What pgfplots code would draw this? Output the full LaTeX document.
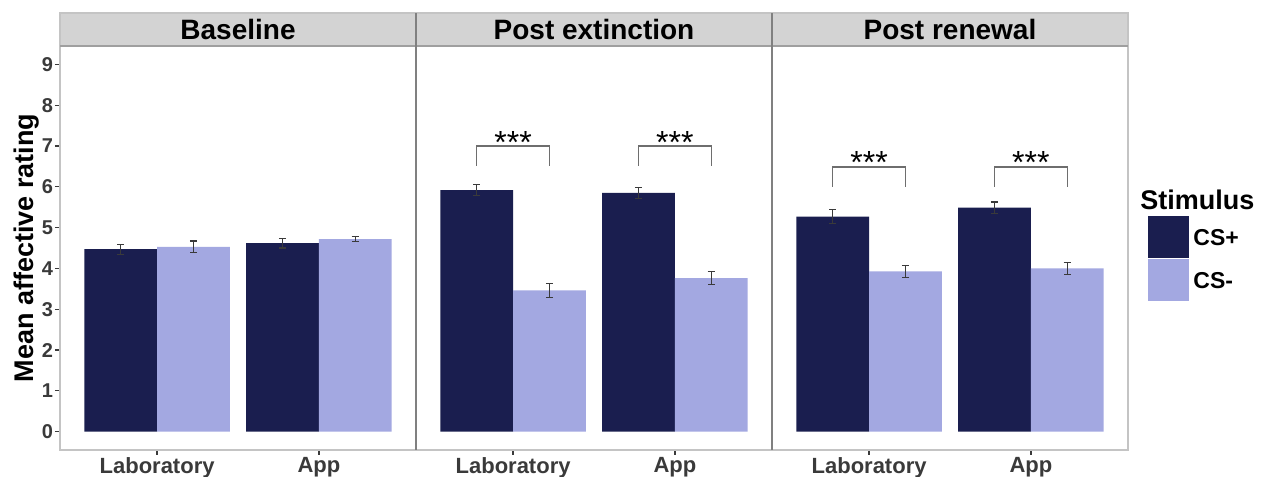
\documentclass[border=0pt]{standalone}
\usepackage{pgfplots}
\pgfplotsset{compat=1.18}
\usepackage{pgfplotstable}
\usepackage{fontspec}
\setmainfont{Liberation Sans}
\definecolor{csplus}{HTML}{1A1E4F}
\definecolor{csminus}{HTML}{A3A8E1}
\definecolor{stripfill}{HTML}{D3D3D3}
\definecolor{bordergray}{HTML}{C4C4C4}
\definecolor{sepgray}{HTML}{808080}
\definecolor{tickgray}{HTML}{3A3A3A}
\definecolor{brkgray}{HTML}{6E6E6E}

\pgfplotstableread{
xp xm yp ep ym em
0.775 1.225 4.47 0.12 4.53 0.14
1.775 2.225 4.62 0.12 4.72 0.07
}\baseline
\pgfplotstableread{
xp xm yp ep ym em
0.775 1.225 5.92 0.13 3.46 0.17
1.775 2.225 5.85 0.14 3.76 0.16
}\postext
\pgfplotstableread{
xp xm yp ep ym em
0.775 1.225 5.27 0.17 3.93 0.15
1.775 2.225 5.49 0.14 4.00 0.14
}\postren

\pgfplotsset{
  panel/.style={
    at={(#1,13.5pt)}, anchor=south west,
    width=178pt, height=202pt, scale only axis,
    xmin=0.4, xmax=2.6, ymin=-0.45, ymax=9.45,
    xtick={1,2}, xticklabels={Laboratory,App},
    axis line style={draw=bordergray, line width=0.6pt},
    tick style={draw=tickgray, line width=0.6pt},
    tick align=outside, major tick length=2.5pt,
    tick pos=left,
    xticklabel style={font=\bfseries\fontsize{11}{13}\selectfont, text=tickgray, yshift=2.5pt},
    yticklabel style={font=\bfseries\fontsize{10}{11}\selectfont, text=tickgray, xshift=2.5pt},
    /pgf/number format/assume math mode=true,
    clip=false,
  },
  bp/.style={ybar, bar width=0.45, bar shift=0, fill=csplus, draw=none,
    error bars/.cd, y dir=both, y explicit,
    error bar style={draw=tickgray, line width=0.6pt},
    error mark options={draw=tickgray, line width=0.6pt, mark size=1.8pt, rotate=90}},
  bm/.style={ybar, bar width=0.45, bar shift=0, fill=csminus, draw=none,
    error bars/.cd, y dir=both, y explicit,
    error bar style={draw=tickgray, line width=0.6pt},
    error mark options={draw=tickgray, line width=0.6pt, mark size=1.8pt, rotate=90}},
}
\tikzset{stars/.style={font=\fontsize{16}{16}\selectfont, inner sep=0pt, anchor=base, yshift=-3.5pt}}

\begin{document}
\begin{tikzpicture}
% Baseline
\begin{axis}[panel=30pt, ytick={0,1,2,3,4,5,6,7,8,9},
  ylabel={\bfseries Mean affective rating},
  ylabel style={font=\fontsize{13.5}{15}\selectfont, at={(axis description cs:-0.093,0.5)}, anchor=center}]
\addplot[bp] table[x=xp, y=yp, y error=ep] {\baseline};
\addplot[bm] table[x=xm, y=ym, y error=em] {\baseline};
\end{axis}
% Post extinction
\begin{axis}[panel=208pt, ytick=\empty]
\addplot[bp] table[x=xp, y=yp, y error=ep] {\postext};
\addplot[bm] table[x=xm, y=ym, y error=em] {\postext};
\draw[brkgray, line width=0.75pt] (axis cs:0.775,6.51) -- (axis cs:0.775,7.0) -- (axis cs:1.225,7.0) -- (axis cs:1.225,6.51);
\draw[brkgray, line width=0.75pt] (axis cs:1.775,6.51) -- (axis cs:1.775,7.0) -- (axis cs:2.225,7.0) -- (axis cs:2.225,6.51);
\node[stars] at (axis cs:1,7.0) {***};
\node[stars] at (axis cs:2,7.0) {***};
\end{axis}
% Post renewal
\begin{axis}[panel=386pt, ytick=\empty]
\addplot[bp] table[x=xp, y=yp, y error=ep] {\postren};
\addplot[bm] table[x=xm, y=ym, y error=em] {\postren};
\draw[brkgray, line width=0.75pt] (axis cs:0.775,6.0) -- (axis cs:0.775,6.49) -- (axis cs:1.225,6.49) -- (axis cs:1.225,6.0);
\draw[brkgray, line width=0.75pt] (axis cs:1.775,6.0) -- (axis cs:1.775,6.49) -- (axis cs:2.225,6.49) -- (axis cs:2.225,6.0);
\node[stars] at (axis cs:1,6.49) {***};
\node[stars] at (axis cs:2,6.49) {***};
\end{axis}
% strips
\fill[stripfill] (30pt,215.5pt) rectangle (564pt,232pt);
\draw[bordergray, line width=0.6pt] (30pt,13.5pt) rectangle (564pt,232pt);
\draw[gray!75, line width=1pt] (30pt,215.5pt) -- (564pt,215.5pt);
\draw[sepgray, line width=0.8pt] (208pt,13.5pt) -- (208pt,232pt);
\draw[sepgray, line width=0.8pt] (386pt,13.5pt) -- (386pt,232pt);
\node[font=\bfseries\fontsize{14}{16}\selectfont] at (119pt,223.75pt) {Baseline};
\node[font=\bfseries\fontsize{14}{16}\selectfont] at (297pt,223.75pt) {Post extinction};
\node[font=\bfseries\fontsize{14}{16}\selectfont] at (475pt,223.75pt) {Post renewal};
% legend
\node[font=\bfseries\fontsize{13.5}{15}\selectfont, anchor=base west, inner sep=0pt] at (570pt,133.5pt) {Stimulus};
\fill[csplus, draw=white, line width=0.5pt] (573.5pt,109pt) rectangle (594.5pt,130.5pt);
\fill[csminus, draw=white, line width=0.5pt] (573.5pt,87.5pt) rectangle (594.5pt,109pt);
\node[font=\bfseries\fontsize{11.5}{13}\selectfont, anchor=west, inner sep=0pt] at (596.5pt,119.75pt) {CS+};
\node[font=\bfseries\fontsize{11.5}{13}\selectfont, anchor=west, inner sep=0pt] at (596.5pt,98.25pt) {CS-};
\pgfresetboundingbox
\path (0pt,0pt) rectangle (633pt,238.5pt);
\end{tikzpicture}
\end{document}
